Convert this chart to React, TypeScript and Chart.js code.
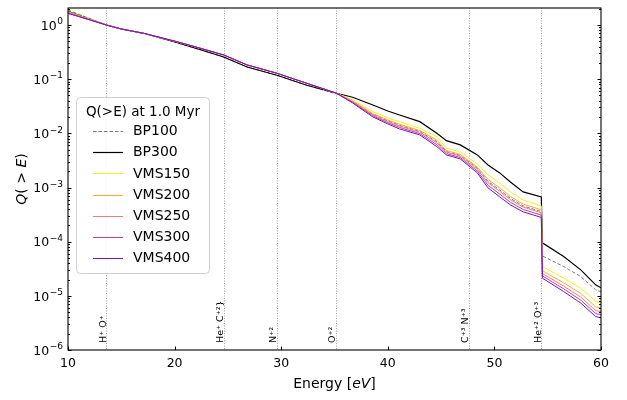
import React, { useEffect, useRef } from 'react';
import { Chart, registerables } from 'chart.js';
Chart.register(...registerables);

const energy = [10, 11, 12, 13.6, 15, 17.1, 20.2, 22.5, 24.6, 26.8, 29.6, 32.4, 35.2, 36.7, 38.6, 40.0, 41.1, 43.0, 44.6, 45.5, 46.8, 48.4, 49.4, 50.5, 51.5, 52.7, 54.4, 54.5, 56.5, 58.1, 59.5, 60];

const bp100 = [1.89, 1.58, 1.33, 1.0, 0.844, 0.703, 0.475, 0.346, 0.257, 0.168, 0.118, 0.0772, 0.0533, 0.03878, 0.02246, 0.01693, 0.01408, 0.01077, 0.00703, 0.004606, 0.003911, 0.002251, 0.001296, 0.0009031, 0.0006294, 0.0004576, 0.0003584, 5.47e-5, 3.472e-5, 2.27e-5, 1.29e-5, 1.185e-5];
const bp300 = [1.78, 1.51, 1.29, 1.0, 0.844, 0.703, 0.475, 0.346, 0.257, 0.168, 0.118, 0.0772, 0.0549, 0.04635, 0.03342, 0.0259, 0.02185, 0.01644, 0.01004, 0.007335, 0.006109, 0.003996, 0.002612, 0.00186, 0.001268, 0.0008293, 0.0006709, 9.504e-5, 5.311e-5, 3.017e-5, 1.596e-5, 1.405e-5];
const vms150 = [1.76, 1.5, 1.29, 1.0, 0.844, 0.703, 0.492, 0.368, 0.28, 0.183, 0.1285, 0.084, 0.0549, 0.04133, 0.02514, 0.01923, 0.01644, 0.01242, 0.008691, 0.005311, 0.004537, 0.002725, 0.001708, 0.001216, 0.0008293, 0.0005905, 0.0004576, 3.472e-5, 2.121e-5, 1.387e-5, 7.85e-6, 7.428e-6];
const vms200 = [1.74, 1.47, 1.27, 1.0, 0.844, 0.703, 0.492, 0.368, 0.28, 0.183, 0.1285, 0.084, 0.0549, 0.03954, 0.02319, 0.0176, 0.01472, 0.01126, 0.007492, 0.004816, 0.004081, 0.002379, 0.001408, 0.0009874, 0.0006839, 0.0004939, 0.0003861, 2.917e-5, 1.738e-5, 1.107e-5, 6.266e-6, 5.931e-6];
const vms250 = [1.7, 1.45, 1.26, 1.0, 0.844, 0.703, 0.492, 0.368, 0.28, 0.183, 0.1285, 0.084, 0.0549, 0.03828, 0.02194, 0.01651, 0.01364, 0.01048, 0.006737, 0.00448, 0.003796, 0.002167, 0.001226, 0.0008508, 0.0005956, 0.0004349, 0.0003414, 2.579e-5, 1.51e-5, 9.462e-6, 5.356e-6, 5.068e-6];
const vms300 = [1.67, 1.44, 1.25, 1.0, 0.844, 0.703, 0.492, 0.368, 0.28, 0.183, 0.1285, 0.084, 0.0549, 0.03733, 0.02103, 0.01569, 0.01285, 0.009874, 0.006187, 0.004222, 0.003577, 0.002007, 0.001098, 0.0007555, 0.0005333, 0.0003928, 0.0003096, 2.339e-5, 1.346e-5, 8.33e-6, 4.714e-6, 4.461e-6];
const vms400 = [1.64, 1.43, 1.247, 1.0, 0.844, 0.703, 0.492, 0.368, 0.28, 0.183, 0.1285, 0.084, 0.0549, 0.03638, 0.02007, 0.01491, 0.01206, 0.009344, 0.005683, 0.003996, 0.003371, 0.00186, 0.0009831, 0.0006709, 0.0004775, 0.0003546, 0.0002808, 2.121e-5, 1.2e-5, 7.335e-6, 4.151e-6, 3.928e-6];

const seriesNames = ['BP100', 'BP300', 'VMS150', 'VMS200', 'VMS250', 'VMS300', 'VMS400'];
const seriesValues = [bp100, bp300, vms150, vms200, vms250, vms300, vms400];
const seriesColors = ['#7a7a7a', '#000000', '#f5f01c', '#fca63a', '#f07a84', '#c0409c', '#7a10c2'];

const ionEnergies = [13.6, 24.6, 29.6, 35.1, 47.6, 54.4];
const ionLabels = ['H⁺ O⁺', 'He⁺ C⁺²}', 'N⁺²', 'O⁺²', 'C⁺³ N⁺³', 'He⁺² O⁺³'];
const ionLabelY = 1.35e-6;

const xTicks = [10, 20, 30, 40, 50, 60];
const yExponents = [-6, -5, -4, -3, -2, -1, 0];
const legendTitle = 'Q(>E) at 1.0 Myr';

const FONT = "'DejaVu Sans', sans-serif";

const overlay = {
  id: 'overlay',
  beforeDatasetsDraw(chart: any) {
    const { ctx, chartArea, scales } = chart;
    const { top, bottom } = chartArea;
    const x = scales.x, y = scales.y;
    ctx.save();
    ctx.strokeStyle = '#a0a0a0';
    ctx.lineWidth = 1;
    ctx.setLineDash([1, 1.5]);
    ionEnergies.forEach((e) => {
      const px = Math.round(x.getPixelForValue(e)) + 0.5;
      ctx.beginPath();
      ctx.moveTo(px, top);
      ctx.lineTo(px, bottom);
      ctx.stroke();
    });
    ctx.setLineDash([]);
    ctx.fillStyle = '#000';
    ctx.font = `9.5px ${FONT}`;
    ionEnergies.forEach((e, i) => {
      const px = x.getPixelForValue(e);
      const py = y.getPixelForValue(ionLabelY);
      ctx.save();
      ctx.translate(px - 0.5, py);
      ctx.rotate(-Math.PI / 2);
      ctx.textAlign = 'left';
      ctx.textBaseline = 'alphabetic';
      ctx.fillText(ionLabels[i], 0, 0);
      ctx.restore();
    });
    ctx.restore();
  },
  afterDatasetsDraw(chart: any) {
    const { ctx, chartArea, scales } = chart;
    const { top, bottom, left, right } = chartArea;
    const x = scales.x, y = scales.y;
    ctx.save();
    // frame
    ctx.strokeStyle = '#000';
    ctx.lineWidth = 1.1;
    ctx.strokeRect(left, top, right - left, bottom - top);
    // x ticks (inward)
    ctx.lineWidth = 1;
    xTicks.forEach((v) => {
      const px = Math.round(x.getPixelForValue(v)) + 0.5;
      ctx.beginPath();
      ctx.moveTo(px, bottom);
      ctx.lineTo(px, bottom - 3.5);
      ctx.stroke();
    });
    // y ticks, left and right
    const ymax = y.max;
    for (let d = -6; d <= 0; d++) {
      for (let k = 1; k <= 9; k++) {
        const v = k * Math.pow(10, d);
        if (v > ymax) continue;
        const py = Math.round(y.getPixelForValue(v)) + 0.5;
        const len = k === 1 ? 3.5 : 2;
        ctx.beginPath();
        ctx.moveTo(left, py);
        ctx.lineTo(left + len, py);
        ctx.moveTo(right, py);
        ctx.lineTo(right - len, py);
        ctx.stroke();
      }
    }
    // y tick labels 10^n
    ctx.fillStyle = '#000';
    ctx.textBaseline = 'alphabetic';
    ctx.textAlign = 'left';
    yExponents.forEach((n) => {
      const py = y.getPixelForValue(Math.pow(10, n));
      const expStr = n < 0 ? '\u2212' + String(-n) : String(n);
      ctx.font = `9px ${FONT}`;
      const we = ctx.measureText(expStr).width;
      ctx.font = `12.5px ${FONT}`;
      const wb = ctx.measureText('10').width;
      const xr = left - 5;
      const xb = xr - we - wb - 0.5;
      ctx.fillText('10', xb, py + 4.7);
      ctx.font = `9px ${FONT}`;
      ctx.fillText(expStr, xb + wb + 0.5, py - 0.8);
    });
    // legend
    const lx = 76, ly = 97, lw = 133, lh = 176;
    ctx.beginPath();
    ctx.roundRect(lx + 0.5, ly + 0.5, lw, lh, 4);
    ctx.fillStyle = 'rgba(255,255,255,0.85)';
    ctx.fill();
    ctx.strokeStyle = '#d0d0d0';
    ctx.lineWidth = 1;
    ctx.stroke();
    ctx.fillStyle = '#000';
    ctx.font = `13.5px ${FONT}`;
    ctx.textAlign = 'center';
    ctx.textBaseline = 'middle';
    ctx.fillText(legendTitle, lx + lw / 2 + 0.5, 112);
    ctx.textAlign = 'left';
    ctx.font = `14px ${FONT}`;
    chart.data.datasets.forEach((ds: any, i: number) => {
      const yy = 131 + i * 21.2;
      ctx.save();
      ctx.strokeStyle = ds.borderColor;
      ctx.lineWidth = ds.borderWidth;
      ctx.setLineDash(ds.borderDash || []);
      ctx.beginPath();
      ctx.moveTo(93, Math.round(yy) + 0.5);
      ctx.lineTo(123, Math.round(yy) + 0.5);
      ctx.stroke();
      ctx.restore();
      ctx.fillStyle = '#000';
      ctx.fillText(ds.label, 133, yy + 0.5);
    });
    // x title: Energy [eV]
    ctx.textBaseline = 'middle';
    ctx.textAlign = 'left';
    const widthOf = (t: string, it: boolean) => {
      ctx.font = `${it ? 'italic ' : ''}14px ${FONT}`;
      return ctx.measureText(t).width;
    };
    const parts: [string, boolean][] = [['Energy [', false], ['eV', true], [']', false]];
    const total = parts.reduce((s, p) => s + widthOf(p[0], p[1]), 0);
    let cx = (left + right) / 2 - total / 2;
    parts.forEach((p) => {
      const w = widthOf(p[0], p[1]);
      ctx.fillText(p[0], cx, bottom + 34);
      cx += w;
    });
    // y title: Q( > E)
    const yparts: [string, boolean][] = [['Q', true], ['( > ', false], ['E', true], [')', false]];
    const ytotal = yparts.reduce((s, p) => s + widthOf(p[0], p[1]), 0);
    ctx.save();
    ctx.translate(22, (top + bottom) / 2);
    ctx.rotate(-Math.PI / 2);
    let cy = -ytotal / 2;
    yparts.forEach((p) => {
      const w = widthOf(p[0], p[1]);
      ctx.fillText(p[0], cy, 0);
      cy += w;
    });
    ctx.restore();
    ctx.restore();
  },
};

export default function App() {
  const ref = useRef<HTMLCanvasElement>(null);
  useEffect(() => {
    document.body.style.margin = '0';
    const canvas = ref.current!;
    const datasets = seriesNames.map((name, i) => ({
      label: name,
      data: energy.map((e, j) => ({ x: e, y: seriesValues[i][j] })),
      borderColor: seriesColors[i],
      backgroundColor: seriesColors[i],
      borderWidth: i === 1 ? 1.2 : 1,
      borderDash: i === 0 ? [3.5, 2] : [],
      pointRadius: 0,
      tension: 0,
      fill: false,
      order: seriesNames.length - 1 - i,
    }));
    const chart = new Chart(canvas, {
      type: 'line',
      data: { datasets },
      options: {
        animation: false,
        responsive: false,
        layout: { padding: { left: 0, right: 26, top: 8, bottom: 0 } },
        plugins: { legend: { display: false }, tooltip: { enabled: false } },
        scales: {
          x: {
            type: 'linear',
            min: 10,
            max: 60,
            afterFit: (s: any) => { s.height = 50; },
            afterBuildTicks: (s: any) => { s.ticks = xTicks.map((v) => ({ value: v })); },
            grid: { display: false, drawTicks: false },
            border: { display: false },
            ticks: { font: { family: FONT, size: 12.5 }, color: '#000', padding: 6, maxRotation: 0, autoSkip: false },
          },
          y: {
            type: 'logarithmic',
            min: 1e-6,
            max: 2.06,
            afterFit: (s: any) => { s.width = 68; },
            grid: { display: false, drawTicks: false },
            border: { display: false },
            ticks: { display: false },
          },
        },
      },
      plugins: [overlay],
    } as any);
    return () => chart.destroy();
  }, []);
  return (
    <div style={{ position: 'relative', width: 627, height: 400 }}>
      <canvas ref={ref} width={627} height={400} style={{ display: 'block' }} />
    </div>
  );
}
